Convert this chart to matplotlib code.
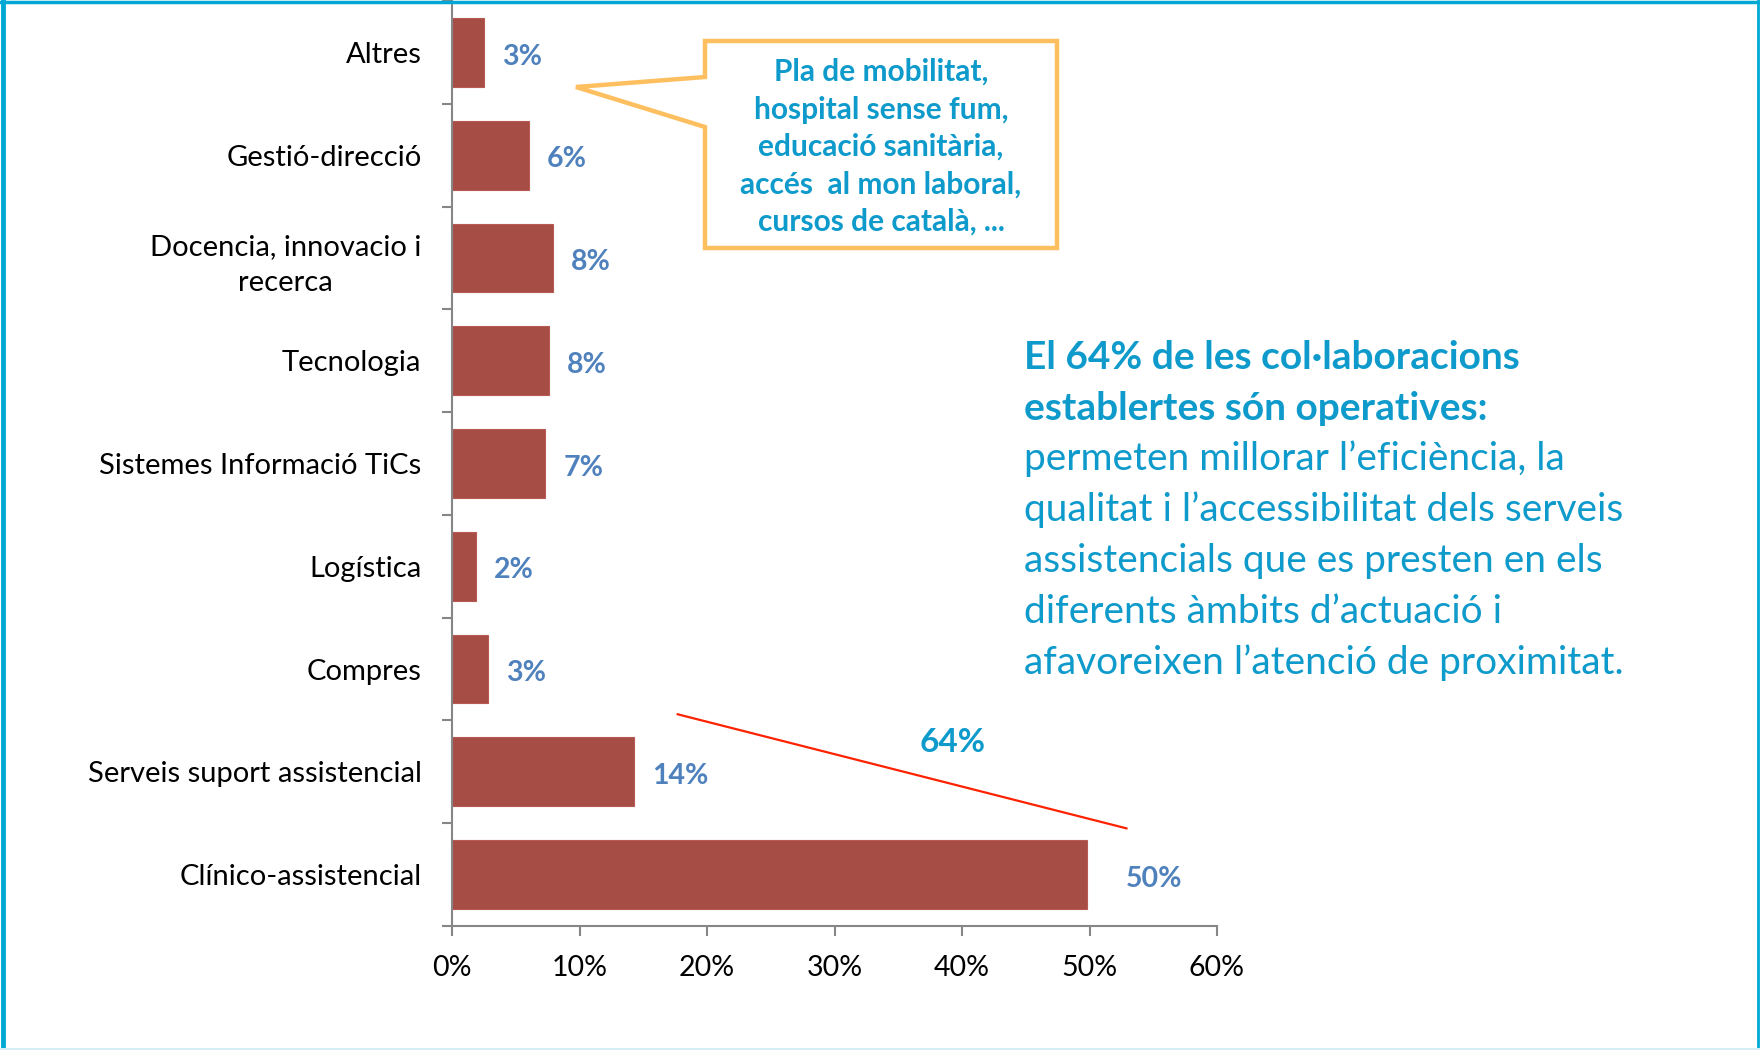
import matplotlib.pyplot as plt
from matplotlib.patches import Polygon
from matplotlib.lines import Line2D

plt.rcParams['font.family'] = ['Lato', 'DejaVu Sans']

# Data (bottom to top, as drawn)
categories = ["Clínico-assistencial", "Serveis suport assistencial", "Compres",
              "Logística", "Sistemes Informació TiCs", "Tecnologia",
              "Docencia, innovacio i\nrecerca", "Gestió-direcció", "Altres"]
values = [49.8, 14.3, 2.8, 1.9, 7.3, 7.6, 7.9, 6.0, 2.5]
value_labels = ["50%", "14%", "3%", "2%", "7%", "8%", "8%", "6%", "3%"]
x_ticks = [0, 10, 20, 30, 40, 50, 60]

callout_lines = ["Pla de mobilitat,", "hospital sense fum,", "educació sanitària,",
                 "accés  al mon laboral,", "cursos de català, ..."]
note_bold = ["El 64% de les col·laboracions", "establertes són operatives:"]
note_plain = ["permeten millorar l’eficiència, la",
              "qualitat i l’accessibilitat dels serveis",
              "assistencials que es presten en els",
              "diferents àmbits d’actuació i",
              "afavoreixen l’atenció de proximitat."]

W, H = 1760, 1050
BAR = "#A64D45"
LBL = "#4F81BD"
CYAN = "#0E9ACB"
GRAY = "#868686"

fig = plt.figure(figsize=(W / 100, H / 100), dpi=100)
fig.patch.set_facecolor("white")

# plot area (pixel positions from the reference)
ax = fig.add_axes([452 / W, (H - 926) / H, (1217 - 452) / W, 925 / H])
y = list(range(len(categories)))
ax.barh(y, values, height=0.67, color=BAR, edgecolor="#B85A52", linewidth=0.8)
ax.set_xlim(0, 60)
ax.set_ylim(-0.5, len(categories) - 0.5)

for i, (v, t) in enumerate(zip(values, value_labels)):
    off = 28 if v > 40 else 13
    ax.annotate(t, xy=(v, i), xytext=(off, -3), textcoords="offset points",
                ha="left", va="center", fontsize=20.5, fontweight="bold", color=LBL)

for s in ["top", "right"]:
    ax.spines[s].set_visible(False)
for s in ["left", "bottom"]:
    ax.spines[s].set_color(GRAY)
    ax.spines[s].set_linewidth(1.5)

ax.set_yticks(y)
ax.set_yticklabels(categories, fontsize=21, multialignment="center", linespacing=1.45)
ax.tick_params(axis="y", length=0, pad=22)
ax.set_yticks([i - 0.5 for i in range(len(categories) + 1)], minor=True)
ax.tick_params(axis="y", which="minor", length=7, width=1.5, color=GRAY)

ax.set_xticks(x_ticks)
ax.set_xticklabels([f"{t}%" for t in x_ticks], fontsize=20.5)
ax.tick_params(axis="x", length=7, width=1.5, color=GRAY, pad=14)

# red bracket line and 64%
ax.plot([17.7, 52.9], [1.56, 0.45], color="#FF2200", lw=1.6, clip_on=False)
ax.text(39.3, 1.29, "64%", fontsize=24, fontweight="bold", color=CYAN,
        ha="center", va="center")


def fx(px):
    return px / W


def fy(py):
    return 1 - py / H


# callout box
pts = [(705, 41), (1057, 41), (1057, 248), (705, 248), (705, 127), (576, 87), (705, 77)]
fig.patches.append(Polygon([(fx(a), fy(b)) for a, b in pts], closed=True,
                           transform=fig.transFigure, facecolor="white",
                           edgecolor="#FDBF5F", linewidth=3.2, joinstyle="miter"))
for k, line in enumerate(callout_lines):
    fig.text(fx(881), fy(72 + k * 37.5), line, ha="center", va="center",
             fontsize=21.5, fontweight="bold", color=CYAN)

# note on the right
for k, line in enumerate(note_bold + note_plain):
    fig.text(fx(1024), fy(357 + k * 51), line, ha="left", va="center", fontsize=28,
             fontweight="bold" if k < len(note_bold) else "normal", color=CYAN)

# frame
FR = "#00A8D4"
fig.lines.append(Line2D([0.0015, 0.0015], [0, 1], transform=fig.transFigure, color=FR, lw=3.5))
fig.lines.append(Line2D([0, 1], [0.9985, 0.9985], transform=fig.transFigure, color=FR, lw=2.5))
fig.lines.append(Line2D([0.999, 0.999], [0, 1], transform=fig.transFigure, color=FR, lw=2))
fig.lines.append(Line2D([0, 1], [0.001, 0.001], transform=fig.transFigure, color="#D5EEF5", lw=1.5))

fig.savefig("out.png", dpi=100)
